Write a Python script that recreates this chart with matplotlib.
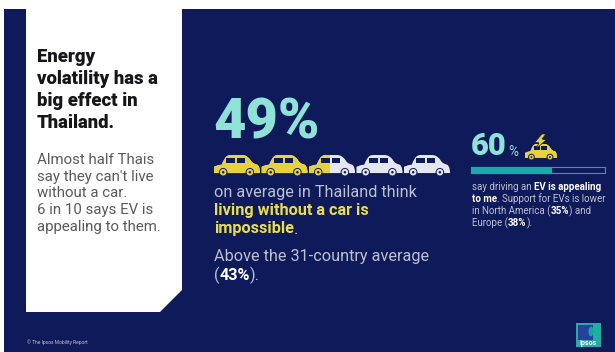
import matplotlib
matplotlib.use("Agg")
import matplotlib.pyplot as plt
from matplotlib.patches import Polygon, Rectangle, PathPatch, Circle, Ellipse
from matplotlib.path import Path
from matplotlib.transforms import Affine2D

# Survey figures
car_share = 49
ev_share = 60
car_count = 5
headline = ["Energy", "volatility has a", "big effect in", "Thailand."]
body = ["Almost half Thais", "say they can't live", "without a car.", "6 in 10 says EV is", "appealing to them."]

NAVY = "#0F1A5A"
TEAL = "#8FE3D6"
BAR = "#17A9AC"
YELLOW = "#E9DE4E"
CAR_Y = "#E6D33C"
CAR_W = "#E4E7F0"
GREY = "#BDC0D0"

plt.rcParams["font.family"] = ["Roboto", "DejaVu Sans"]
fig = plt.figure(figsize=(6.15, 3.52), dpi=100, facecolor="white")
ax = fig.add_axes([0, 0, 1, 1])
ax.set_xlim(0, 615)
ax.set_ylim(352, 0)
ax.axis("off")


def px(size):
    return size * 0.72


def runs(x, y, parts, size):
    """Draw (text, colour, weight) runs one after another on a single row."""
    rend = fig.canvas.get_renderer()
    for s, c, w in parts:
        t = ax.text(x, y, s, color=c, fontweight=w, fontsize=px(size), va="center", ha="left")
        x += t.get_window_extent(rend).width


def car_path():
    # Side view of a hatchback, one unit wide and one unit tall, y pointing down
    M, L, C = Path.MOVETO, Path.LINETO, Path.CURVE4
    pts = [(0.0, 0.78), (0.0, 0.56), (0.1, 0.48), (0.17, 0.46),
           (0.2, 0.3), (0.24, 0.0), (0.36, 0.0),
           (0.6, 0.0), (0.68, 0.0), (0.72, 0.06),
           (0.78, 0.2), (0.82, 0.36), (0.86, 0.42),
           (0.94, 0.46), (1.0, 0.56), (1.0, 0.78),
           (1.0, 0.86), (0.0, 0.86), (0.0, 0.78)]
    codes = [M, L, L, L, C, C, C, L, C, C, C, C, C, C, C, C, L, L, L]
    return Path(pts, codes)


def draw_car(x0, y0, w, h, fill, base=CAR_W):
    tr = Affine2D().scale(w, h).translate(x0, y0) + ax.transData
    ax.add_patch(PathPatch(car_path(), fc=base, ec="none", transform=tr))
    if fill > 0:
        p = PathPatch(car_path(), fc=CAR_Y, ec="none", transform=tr)
        ax.add_patch(p)
        p.set_clip_path(Rectangle((x0, y0), w * fill, h, transform=ax.transData))
    for xs, xe in ((0.27, 0.46), (0.5, 0.68)):
        ax.add_patch(Rectangle((x0 + w * xs, y0 + h * 0.14), w * (xe - xs), h * 0.26, fc=NAVY, ec="none"))
    for xw in (0.2, 0.78):
        col = CAR_Y if xw < fill else base
        ax.add_patch(Circle((x0 + w * xw, y0 + h * 0.82), h * 0.18, fc=col, ec=NAVY, lw=0.7))
        ax.add_patch(Circle((x0 + w * xw, y0 + h * 0.82), h * 0.06, fc=NAVY, ec="none"))


# Page background and the white side panel with its clipped corner
ax.add_patch(Rectangle((4, 9), 611, 343, fc=NAVY, ec="none"))
ax.add_patch(Polygon([(26, 9), (182, 9), (182, 290), (160, 312), (26, 312)], fc="white", ec="none"))

for i, line in enumerate(headline):
    ax.text(37, 57 + i * 22, line, fontsize=px(18.5), fontweight=900, color="#15151A", va="center")
for i, line in enumerate(body):
    ax.text(37, 160 + i * 16.7, line, fontsize=px(15), color="#5A5A5E", va="center")

# Main statistic
ax.text(213, 123, f"{car_share}%", fontsize=px(56), fontweight=900, color=TEAL, va="center")

filled = car_share / 100 * car_count
for i in range(car_count):
    draw_car(214 + i * 47.5, 155, 46, 21, min(max(filled - i, 0), 1))

runs(214, 193, [("on average in Thailand think", GREY, "normal")], 16.2)
runs(214, 211, [("living without a car is", YELLOW, "bold")], 16.2)
runs(214, 229, [("impossible", YELLOW, "bold"), (".", GREY, "normal")], 16.2)
runs(214, 256, [("Above the 31-country average", GREY, "normal")], 16.2)
runs(214, 275, [("(", GREY, "normal"), ("43%", "white", "bold"), (").", GREY, "normal")], 16.2)

# Secondary statistic with progress bar
ax.text(471, 146, f"{ev_share}", fontsize=px(31), fontweight=900, color=TEAL, va="center")
ax.text(508, 152, "%", fontsize=px(13.5), color=TEAL, va="center")
draw_car(525, 144, 32, 16, 1)
ax.add_patch(Polygon([(542, 134), (535, 142), (539, 143), (536, 149), (546, 140), (542, 139), (546, 134)],
                     fc=CAR_Y, ec=NAVY, lw=0.5))

bar_x, bar_y, bar_w, bar_h = 471, 167, 134, 6
ax.add_patch(Rectangle((bar_x, bar_y), bar_w, bar_h, fc=NAVY, ec=BAR, lw=0.8))
ax.add_patch(Rectangle((bar_x, bar_y), bar_w * ev_share / 100, bar_h, fc=BAR, ec=BAR, lw=0.8))

small = 9.8
runs(472, 187, [("say driving an ", GREY, "normal"), ("EV is appealing", "white", "bold")], small)
runs(472, 199, [("to me", "white", "bold"), (". Support for EVs is lower", GREY, "normal")], small)
runs(472, 211, [("in North America (", GREY, "normal"), ("35%", "white", "bold"), (") and", GREY, "normal")], small)
runs(472, 223, [("Europe (", GREY, "normal"), ("38%", "white", "bold"), (").", GREY, "normal")], small)

# Footer credit and logo
ax.text(27, 342, "© The Ipsos Mobility Report", fontsize=px(4.9), color=GREY, va="center")
ax.add_patch(Rectangle((576, 323), 25, 24, fc="#2FA6A8", ec="none"))
ax.add_patch(Rectangle((578, 325), 21, 15, fc="#27409E", ec="none"))
ax.add_patch(Rectangle((593, 325), 6, 15, fc="#19B39C", ec="none"))
ax.add_patch(Ellipse((591, 331.5), 5, 10, fc="#14A5A0", ec="none"))
ax.text(588.5, 342.8, "Ipsos", fontsize=px(7), fontweight="bold", color="white", va="center", ha="center")

fig.savefig("out.png", dpi=100, facecolor="white")
